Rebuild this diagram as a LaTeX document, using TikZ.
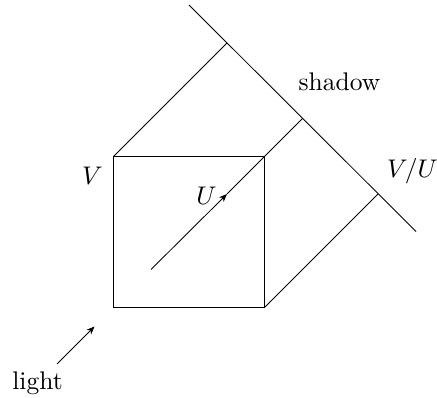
\documentclass[tikz,border=0pt]{standalone}
\usetikzlibrary{arrows.meta}
\tikzset{ln/.style={line width=0.85pt}, arr/.style={ln,-{Stealth[length=8pt,width=6.5pt,inset=2.5pt]}}, lbl/.style={inner sep=0pt,scale=2.55}}
\begin{document}
\begin{tikzpicture}[x=1pt,y=-1pt]
\useasboundingbox (0,0) rectangle (437,398);
\coordinate (a) at (113.5,156.5);
\coordinate (b) at (264.5,156.5);
\coordinate (c) at (264.5,307.5);
\coordinate (d) at (113.5,307.5);
\coordinate (s1) at (189,5);
\coordinate (s2) at (416,231.5);
\coordinate (pa) at (227,43);
\coordinate (pb) at (302.5,118.5);
\coordinate (pc) at (378,194);
\draw[ln] (a) -- (b) -- (c) -- (d) -- cycle;
\draw[ln] (s1) -- (s2);
\draw[ln] (a) -- (pa);
\draw[ln] (b) -- (pb);
\draw[ln] (c) -- (pc);
\coordinate (u1) at (151,269.5);
\coordinate (u2) at (227,194);
\draw[ln] (u2) -- (b);
\draw[arr] (u1) -- (u2);
\coordinate (l1) at (57,364);
\coordinate (l2) at (94.5,326.5);
\draw[arr] (l1) -- (l2);
\node[lbl] (tv) at (92.5,175.5) {$V$};
\node[lbl] (tu) at (206.5,195.5) {$U$};
\node[lbl] (tvu) at (412.5,171) {$V/U$};
\node[lbl] (ts) at (339.5,82) {shadow};
\node[lbl] (tl) at (37.5,383) {light};
\end{tikzpicture}
\end{document}
